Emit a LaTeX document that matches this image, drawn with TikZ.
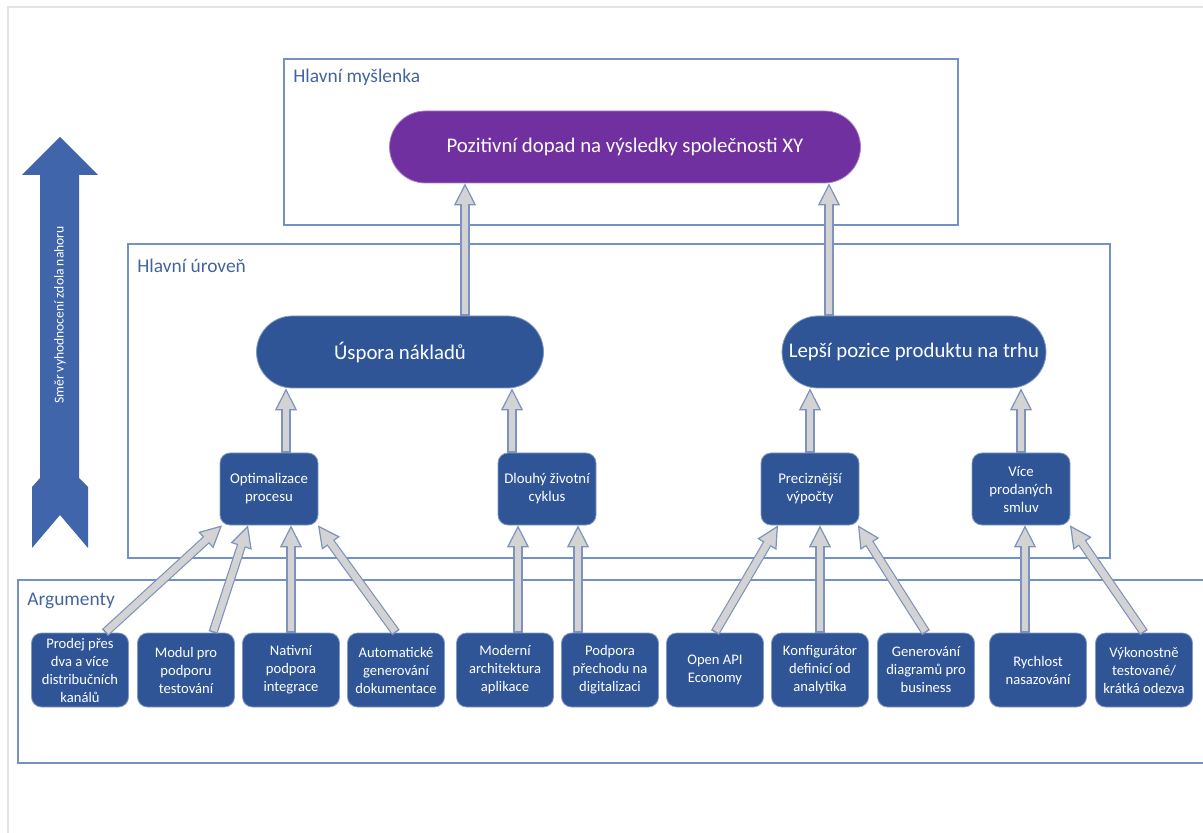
\documentclass[tikz,border=0pt]{standalone}
\usepackage{fontspec}
\setmainfont{Carlito}
\usepackage{tikz}
\usetikzlibrary{arrows.meta}

\definecolor{nodeblue}{HTML}{2F5597}
\definecolor{ideapurple}{HTML}{7030A0}
\definecolor{dirblue}{HTML}{4165AB}
\definecolor{framecol}{HTML}{7391C9}
\definecolor{labelcol}{HTML}{44649F}
\definecolor{arrline}{HTML}{7E92BE}
\definecolor{arrfill}{HTML}{D3D3D3}
\definecolor{pagecol}{HTML}{E3E3E3}

\tikzset{
  frame/.style={draw=framecol, line width=0.6pt},
  grouplabel/.style={text=labelcol, anchor=west, inner sep=0pt, font=\fontsize{9.7}{11}\selectfont},
  pill/.style={fill=nodeblue, draw=nodeblue!60!white, line width=0.4pt, rounded corners=18pt,
    minimum height=36pt, text=white, font=\fontsize{10.4}{12}\selectfont},
  midbox/.style={fill=nodeblue, draw=nodeblue!60!white, line width=0.4pt, rounded corners=5pt,
    minimum width=49pt, minimum height=36pt, inner sep=1pt, text=white, align=center,
    font=\fontsize{7.4}{9}\selectfont},
  argbox/.style={midbox, minimum width=48.5pt, minimum height=37pt, font=\fontsize{7.3}{9}\selectfont},
  liftarr/.style={draw=arrline, line width=4.6pt,
    -{Triangle[length=11pt,width=11pt,line width=0.6pt,fill=arrfill]},
    postaction={draw=arrfill, line width=3.4pt, -, shorten >=10pt, shorten <=0.8pt}},
}

\begin{document}
\begin{tikzpicture}[x=0.5pt,y=-0.5pt]
   \useasboundingbox (0,0) rectangle (1203,833);
   \draw[pagecol, line width=0.8pt] (1210,7) -- (8,7) -- (8,840);

   \draw[frame] (284,59) rectangle (958,225);
   \draw[frame] (128,244) rectangle (1110,558);
   \draw[frame] (1210,580) -- (18,580) -- (18,763) -- (1210,763);
   \draw (293,77) node[grouplabel] (lblmysl) {Hlavní myšlenka};
   \draw (137,266) node[grouplabel] (lbluroven) {Hlavní úroveň};
   \draw (27,601) node[grouplabel] (lblarg) {Argumenty};

   \fill[dirblue] (60,137) -- (98,175) -- (79,175) -- (79,478) -- (88,487) -- (88,548) -- (60,515)
      -- (32,548) -- (32,487) -- (40,478) -- (40,175) -- (22,175) -- cycle;
   \draw (60,315) node[rotate=90, text=white, font=\fontsize{6.8}{8}\selectfont] (smer) {Směr vyhodnocení zdola nahoru};

   \draw (625,147) node[pill, fill=ideapurple, draw=ideapurple!60!white, minimum width=235.5pt] (mysl) {Pozitivní dopad na výsledky společnosti XY};
     \draw (400,352) node[pill, minimum width=143.5pt] (uspora) {Úspora nákladů};
     \draw (914,352) node[pill, minimum width=132pt] (lepsi) {Lepší pozice produktu na trhu};

      \draw (269,489) node[midbox] (optim) {Optimalizace\\procesu};
      \draw (547,489) node[midbox] (dlouhy) {Dlouhý životní\\cyklus};
      \draw (810,489) node[midbox] (precizn) {Preciznější\\výpočty};
      \draw (1021,489) node[midbox] (vice) {Více\\prodaných\\smluv};

   \draw (80,670) node[argbox] (prodej) {Prodej přes\\dva a více\\distribučních\\kanálů};
   \draw (186,670) node[argbox] (modul) {Modul pro\\podporu\\testování};
   \draw (291,670) node[argbox] (nativ) {Nativní\\podpora\\integrace};
   \draw (396,670) node[argbox] (autom) {Automatické\\generování\\dokumentace};
   \draw (505,670) node[argbox] (modern) {Moderní\\architektura\\aplikace};
   \draw (610,670) node[argbox] (digit) {Podpora\\přechodu na\\digitalizaci};
   \draw (715,670) node[argbox] (openapi) {Open API\\Economy};
   \draw (820,670) node[argbox] (konfig) {Konfigurátor\\definicí od\\analytika};
   \draw (926,670) node[argbox] (diagram) {Generování\\diagramů pro\\business};
   \draw (1038,670) node[argbox] (rychlost) {Rychlost\\nasazování};
   \draw (1144,670) node[argbox] (vykon) {Výkonostně\\testované/\\krátká odezva};

     \path ([xshift=32.5pt]uspora.north) edge[liftarr] ([xshift=-80pt]mysl.south);
     \path ([xshift=-42.5pt]lepsi.north) edge[liftarr] ([xshift=102pt]mysl.south);

     \path ([xshift=8.5pt]optim.north) edge[liftarr] ([xshift=-57pt]uspora.south);
     \path ([xshift=-17.5pt]dlouhy.north) edge[liftarr] ([xshift=56pt]uspora.south);
     \path (precizn.north) edge[liftarr] ([xshift=-52pt]lepsi.south);
     \path (vice.north) edge[liftarr] ([xshift=53.5pt]lepsi.south);

     \path ([xshift=12.5pt]prodej.north) edge[liftarr] ([xshift=-23.5pt]optim.south);
     \path ([xshift=13.5pt]modul.north) edge[liftarr] ([xshift=-10.5pt]optim.south);
     \path (nativ.north) edge[liftarr] ([xshift=11pt]optim.south);
     \path (autom.north) edge[liftarr] ([xshift=24.5pt]optim.south);
     \path ([xshift=6.5pt]modern.north) edge[liftarr] ([xshift=-14.5pt]dlouhy.south);
     \path ([xshift=-16pt]digit.north) edge[liftarr] ([xshift=15.5pt]dlouhy.south);
     \path (openapi.north) edge[liftarr] ([xshift=-16pt]precizn.south);
     \path (konfig.north) edge[liftarr] ([xshift=5pt]precizn.south);
     \path (diagram.north) edge[liftarr] ([xshift=24pt]precizn.south);
     \path ([xshift=-6.5pt]rychlost.north) edge[liftarr] ([xshift=2pt]vice.south);
     \path (vykon.north) edge[liftarr] ([xshift=24.5pt]vice.south);
\end{tikzpicture}
\end{document}
